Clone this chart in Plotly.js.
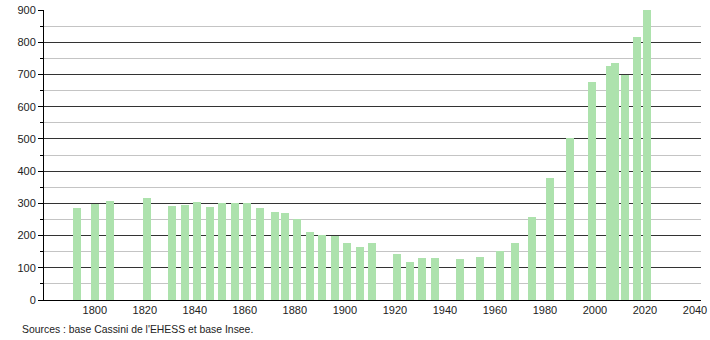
<!DOCTYPE html>
<html><head><meta charset="utf-8">
<script src="https://cdn.plot.ly/plotly-3.0.1.min.js"></script>
<style>html,body{margin:0;padding:0;background:#fff}#c{width:710px;height:340px}</style>
</head><body><div id="c"></div>
<script>
const years = [1793,1800,1806,1821,1831,1836,1841,1846,1851,1856,1861,1866,1872,1876,1881,1886,1891,1896,1901,1906,1911,1921,1926,1931,1936,1946,1954,1962,1968,1975,1982,1990,1999,2006,2008,2012,2017,2021];
const population = [287,299,306,318,293,296,305,290,302,302,301,287,274,270,252,212,203,199,177,164,177,144,118,131,131,127,134,153,178,259,379,504,678,727,736,698,817,900];
const xTicks = [1800,1820,1840,1860,1880,1900,1920,1940,1960,1980,2000,2020,2040];
const majorY = [0,100,200,300,400,500,600,700,800,900];
const minorY = [50,150,250,350,450,550,650,750,850];
const sourceText = "Sources : base Cassini de l'EHESS et base Insee.";
const xRange = [1779.7, 2042.4];

const data = [
  {type: 'bar', x: years, y: population, width: 3.2, yaxis: 'y',
   marker: {color: '#ade2ad', line: {width: 0}}, hoverinfo: 'x+y'},
  {type: 'scatter', mode: 'none', x: [xRange[0]], y: [0], yaxis: 'y2', hoverinfo: 'skip', showlegend: false}
];
const font = {family: 'Liberation Sans, Arial, sans-serif', size: 11, color: '#222'};
const layout = {
  width: 710, height: 340,
  margin: {l: 44, r: 9, t: 10, b: 40},
  paper_bgcolor: '#fff', plot_bgcolor: '#fff',
  font: font, showlegend: false, bargap: 0,
  xaxis: {
    range: xRange, tickvals: xTicks, ticktext: xTicks.map(String),
    showgrid: false, zeroline: false, showline: true, linecolor: '#000', linewidth: 1,
    ticks: '', tickfont: font
  },
  yaxis: {
    range: [0, 900], tickmode: 'array', tickvals: minorY, showticklabels: false,
    showgrid: true, gridcolor: '#c4c4c4', gridwidth: 1,
    zeroline: false, showline: true, linecolor: '#000', linewidth: 1,
    ticks: 'outside', ticklen: 3, tickcolor: '#000'
  },
  yaxis2: {
    overlaying: 'y', side: 'left', range: [0, 900], tickmode: 'array', tickvals: majorY,
    ticktext: majorY.map(String),
    showgrid: true, gridcolor: '#333', gridwidth: 1,
    zeroline: false, showline: false,
    ticks: 'outside', ticklen: 5, tickcolor: '#000', tickfont: font
  },
  annotations: [{
    text: sourceText, xref: 'paper', yref: 'paper', x: -0.036, y: -0.1,
    xanchor: 'left', yanchor: 'middle', showarrow: false,
    font: {family: 'Liberation Sans, Arial, sans-serif', size: 10.4, color: '#222'}
  }]
};
Plotly.newPlot('c', data, layout, {displayModeBar: false, staticPlot: true});
</script></body></html>
